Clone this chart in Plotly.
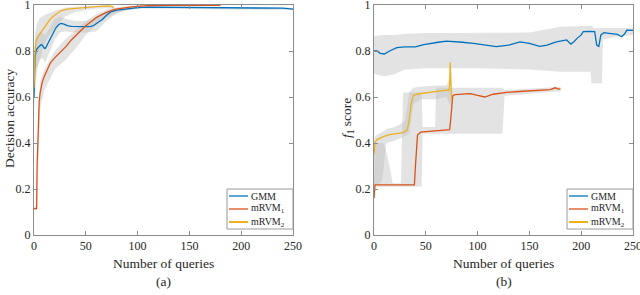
import plotly.graph_objects as go

# ---------------- Panel (a): decision accuracy ----------------
a_gmm_q = [0, 1, 2, 3, 5, 7, 8, 10, 11, 13, 16, 18, 21, 24, 26, 29, 32, 36, 40, 45, 50, 55, 58, 62, 66, 70, 74, 80, 90, 100, 110, 130, 160, 190, 220, 240, 250]
a_gmm_v = [0.60, 0.77, 0.80, 0.81, 0.82, 0.828, 0.825, 0.812, 0.812, 0.83, 0.862, 0.88, 0.90, 0.915, 0.92, 0.917, 0.91, 0.907, 0.906, 0.906, 0.906, 0.907, 0.912, 0.925, 0.937, 0.955, 0.97, 0.978, 0.985, 0.989, 0.991, 0.99, 0.99, 0.989, 0.988, 0.986, 0.982]
a_gmm_bq = [0, 1, 3, 5, 8, 11, 15, 20, 25, 30, 40, 50, 60, 70, 80, 90, 100, 120, 250]
a_gmm_hi = [0.66, 0.85, 0.87, 0.88, 0.88, 0.87, 0.90, 0.94, 0.95, 0.94, 0.93, 0.93, 0.94, 0.975, 0.985, 0.99, 0.993, 0.994, 0.988]
a_gmm_lo = [0.55, 0.62, 0.72, 0.76, 0.77, 0.75, 0.79, 0.85, 0.88, 0.885, 0.88, 0.88, 0.885, 0.93, 0.965, 0.978, 0.985, 0.986, 0.978]

a_m1_q = [0, 2.5, 3, 4, 5, 6, 8, 10, 13, 16, 20, 26, 31, 36, 41, 45, 50, 55, 60, 65, 70, 78, 86, 94, 102, 110, 130, 150, 170, 180]
a_m1_v = [0.115, 0.115, 0.30, 0.48, 0.58, 0.62, 0.665, 0.69, 0.72, 0.75, 0.77, 0.797, 0.82, 0.848, 0.87, 0.89, 0.91, 0.927, 0.945, 0.957, 0.968, 0.981, 0.988, 0.992, 0.995, 0.997, 0.998, 0.998, 0.999, 0.999]
a_m1_bq = [0, 3, 4, 6, 10, 20, 30, 40, 50, 60, 70, 80, 100, 120, 180]
a_m1_hi = [0.12, 0.13, 0.50, 0.67, 0.72, 0.80, 0.85, 0.89, 0.93, 0.96, 0.98, 0.99, 0.997, 0.999, 0.999]
a_m1_lo = [0.11, 0.11, 0.30, 0.55, 0.63, 0.72, 0.76, 0.81, 0.87, 0.915, 0.945, 0.965, 0.985, 0.995, 0.997]

a_m2_q = [0, 0.5, 1, 2, 3, 5, 8, 12, 16, 20, 26, 32, 40, 50, 60, 70, 74, 77]
a_m2_v = [0.64, 0.75, 0.80, 0.84, 0.855, 0.87, 0.89, 0.915, 0.94, 0.955, 0.975, 0.982, 0.986, 0.99, 0.993, 0.996, 0.995, 0.99]
a_m2_bq = [0, 1, 3, 5, 8, 12, 20, 30, 40, 60, 77]
a_m2_hi = [0.70, 0.88, 0.92, 0.94, 0.95, 0.96, 0.975, 0.988, 0.992, 0.997, 0.996]
a_m2_lo = [0.60, 0.72, 0.73, 0.75, 0.80, 0.85, 0.90, 0.95, 0.97, 0.985, 0.985]

# ---------------- Panel (b): f1 score ----------------
b_gmm_q = [0, 3, 6, 10, 15, 22, 30, 40, 48, 54, 62, 70, 77, 85, 96, 105, 118, 130, 141, 150, 160, 167, 176, 186, 190, 193, 196, 200, 202, 208, 213, 215, 217, 219, 222, 225, 230, 235, 239, 242, 244, 250]
b_gmm_v = [0.80, 0.80, 0.79, 0.787, 0.80, 0.815, 0.818, 0.818, 0.828, 0.833, 0.838, 0.843, 0.842, 0.838, 0.833, 0.826, 0.819, 0.826, 0.84, 0.833, 0.82, 0.826, 0.84, 0.848, 0.83, 0.84, 0.855, 0.87, 0.884, 0.885, 0.884, 0.826, 0.82, 0.87, 0.88, 0.878, 0.876, 0.872, 0.862, 0.875, 0.891, 0.89]
b_gmm_bq = [0, 10, 20, 30, 50, 100, 150, 180, 205, 209, 210, 212, 220, 221, 230, 250]
b_gmm_hi = [0.865, 0.87, 0.87, 0.875, 0.878, 0.878, 0.88, 0.905, 0.91, 0.91, 0.91, 0.90, 0.90, 0.90, 0.90, 0.90]
b_gmm_lo = [0.70, 0.69, 0.70, 0.72, 0.725, 0.725, 0.72, 0.71, 0.71, 0.71, 0.66, 0.66, 0.66, 0.85, 0.86, 0.87]

b_m1_q = [0, 0.5, 1, 10, 20, 30, 39, 40, 41, 42, 45, 50, 60, 70, 73, 74, 75, 76, 78, 85, 93, 100, 107, 115, 128, 140, 150, 160, 170, 175, 178, 180]
b_m1_v = [0.16, 0.21, 0.218, 0.218, 0.218, 0.218, 0.218, 0.30, 0.40, 0.435, 0.447, 0.449, 0.452, 0.455, 0.458, 0.50, 0.58, 0.605, 0.61, 0.612, 0.615, 0.607, 0.60, 0.612, 0.62, 0.624, 0.626, 0.628, 0.632, 0.64, 0.634, 0.635]
b_m1_bq = [0, 1, 9, 12, 15, 18, 26, 28, 46, 47, 59, 60, 124, 126, 180]
b_m1_hi = [0.22, 0.40, 0.40, 0.36, 0.30, 0.225, 0.225, 0.62, 0.62, 0.47, 0.47, 0.64, 0.64, 0.63, 0.645]
b_m1_lo = [0.15, 0.21, 0.21, 0.21, 0.21, 0.21, 0.21, 0.21, 0.21, 0.44, 0.44, 0.44, 0.44, 0.605, 0.625]

b_m2_q = [0, 0.5, 1, 3, 6, 9, 15, 20, 25, 28, 32, 34, 36, 38, 42, 47, 55, 62, 70, 72, 73, 73.5, 74, 74.5, 75]
b_m2_v = [0.35, 0.38, 0.405, 0.415, 0.422, 0.428, 0.436, 0.44, 0.443, 0.445, 0.456, 0.50, 0.573, 0.607, 0.613, 0.616, 0.622, 0.626, 0.63, 0.628, 0.65, 0.75, 0.66, 0.60, 0.585]
b_m2_bq = [0, 1, 5, 8, 12, 20, 25, 30, 34, 38, 45, 60, 70, 73, 73.5, 74, 75]
b_m2_hi = [0.40, 0.43, 0.44, 0.45, 0.46, 0.47, 0.48, 0.50, 0.62, 0.64, 0.645, 0.65, 0.65, 0.68, 0.80, 0.68, 0.62]
b_m2_lo = [0.22, 0.22, 0.22, 0.24, 0.40, 0.41, 0.42, 0.43, 0.44, 0.57, 0.59, 0.59, 0.60, 0.57, 0.57, 0.56, 0.56]

x_ticks = [0, 50, 100, 150, 200, 250]
y_ticks = [0, 0.2, 0.4, 0.6, 0.8, 1]
y_tick_text = ["0", "0.2", "0.4", "0.6", "0.8", "1"]
names = ["GMM", "mRVM<sub>1</sub>", "mRVM<sub>2</sub>"]
colors = ["#0072BD", "#D95319", "#EDB120"]

FONT = "Liberation Serif"
BAND = "rgba(190,190,190,0.43)"
AXC = "#8c8c8c"
TXT = "#262626"

fig = go.Figure()

def band(q, lo, hi, xa, ya):
    fig.add_trace(go.Scatter(x=list(q) + list(q)[::-1], y=list(hi) + list(lo)[::-1],
                             fill="toself", fillcolor=BAND, line=dict(width=0),
                             mode="lines", hoverinfo="skip", showlegend=False,
                             xaxis=xa, yaxis=ya))

panels = [
    ("x", "y",
     [(a_gmm_q, a_gmm_v, a_gmm_bq, a_gmm_lo, a_gmm_hi),
      (a_m1_q, a_m1_v, a_m1_bq, a_m1_lo, a_m1_hi),
      (a_m2_q, a_m2_v, a_m2_bq, a_m2_lo, a_m2_hi)]),
    ("x2", "y2",
     [(b_gmm_q, b_gmm_v, b_gmm_bq, b_gmm_lo, b_gmm_hi),
      (b_m1_q, b_m1_v, b_m1_bq, b_m1_lo, b_m1_hi),
      (b_m2_q, b_m2_v, b_m2_bq, b_m2_lo, b_m2_hi)]),
]

for xa, ya, series in panels:
    for (q, v, bq, lo, hi) in series:
        band(bq, lo, hi, xa, ya)
    for i, (q, v, bq, lo, hi) in enumerate(series):
        fig.add_trace(go.Scatter(x=q, y=v, mode="lines", name=names[i],
                                 line=dict(color=colors[i], width=1.3),
                                 xaxis=xa, yaxis=ya, showlegend=False))

axis_common = dict(showline=True, linecolor=AXC, linewidth=1, mirror="ticks",
                   ticks="inside", ticklen=4, tickcolor=AXC, showgrid=False,
                   zeroline=False, automargin=False, ticklabeloverflow="allow",
                   tickfont=dict(family=FONT, size=12, color=TXT))

fig.update_layout(
    template="none",
    width=640, height=295, margin=dict(l=0, r=0, t=0, b=0, pad=0),
    paper_bgcolor="white", plot_bgcolor="white",
    xaxis=dict(domain=[34 / 640, 293 / 640], range=[0, 250], tickvals=x_ticks, anchor="y", **axis_common),
    yaxis=dict(domain=[60 / 295, 290 / 295], range=[0, 1], tickvals=y_ticks, ticktext=y_tick_text, anchor="x", **axis_common),
    xaxis2=dict(domain=[374 / 640, 633 / 640], range=[0, 250], tickvals=x_ticks, anchor="y2", **axis_common),
    yaxis2=dict(domain=[60 / 295, 290 / 295], range=[0, 1], tickvals=y_ticks, ticktext=y_tick_text, anchor="x2", **axis_common),
    showlegend=False,
)

tfont = dict(family=FONT, size=13.5, color=TXT)
ann = [
    dict(text="Number of queries", x=163.5 / 640, y=(295 - 263) / 295),
    dict(text="Number of queries", x=503.5 / 640, y=(295 - 263) / 295),
    dict(text="(a)", x=163.5 / 640, y=(295 - 281) / 295),
    dict(text="(b)", x=503.5 / 640, y=(295 - 281) / 295),
    dict(text="Decision accuracy", x=9 / 640, y=(295 - 118) / 295, textangle=-90),
    dict(text="<i>f</i><sub>1</sub> score", x=347 / 640, y=(295 - 118) / 295, textangle=-90),
]
for a in ann:
    fig.add_annotation(xref="paper", yref="paper", showarrow=False, font=tfont,
                       xanchor="center", yanchor="middle", **a)

# legend boxes (one per panel), drawn in paper coordinates
leg_font = dict(family=FONT, size=10, color=TXT)
for right_px in (293, 633):
    x0, x1 = right_px - 66, right_px
    y_top, y_bot = 189, 229
    fig.add_shape(type="rect", xref="paper", yref="paper",
                  x0=x0 / 640, x1=x1 / 640, y0=(295 - y_bot) / 295, y1=(295 - y_top) / 295,
                  line=dict(color="#9a9a9a", width=1), fillcolor="white", layer="above")
    for i, nm in enumerate(names):
        yy = (295 - (196 + 13 * i)) / 295
        fig.add_shape(type="line", xref="paper", yref="paper",
                      x0=(x0 + 2) / 640, x1=(x0 + 21) / 640, y0=yy, y1=yy,
                      line=dict(color=colors[i], width=1.3 if i < 2 else 2), layer="above")
        fig.add_annotation(xref="paper", yref="paper", showarrow=False, text=nm,
                           x=(x0 + 22) / 640, y=yy, xanchor="left", yanchor="middle",
                           font=leg_font)

fig.write_html("out.html", config={"displayModeBar": False, "staticPlot": True},
               post_script="document.body.style.margin='0';document.body.style.overflow='hidden';")
